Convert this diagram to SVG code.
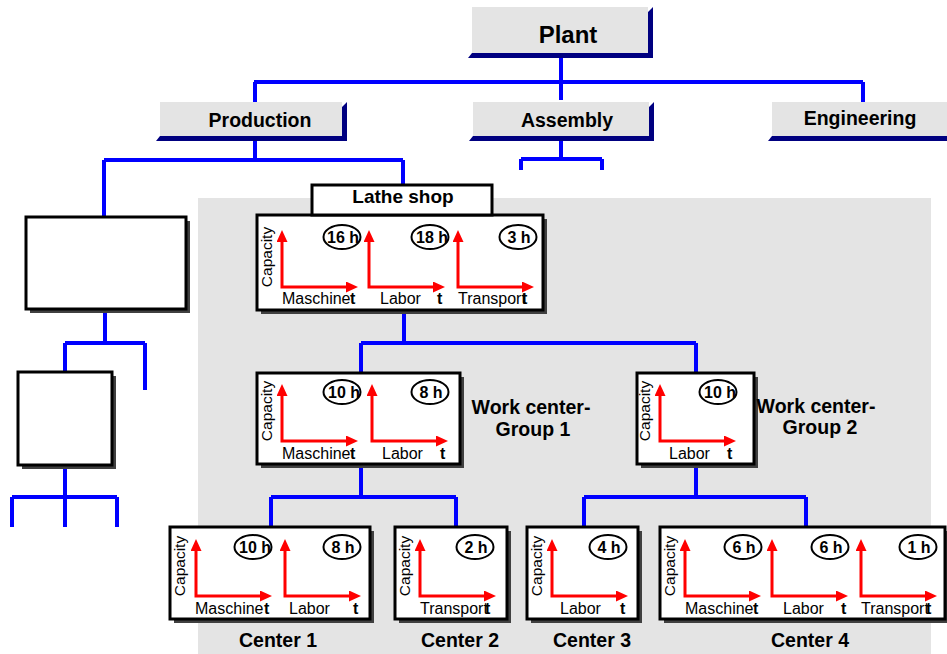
<svg xmlns="http://www.w3.org/2000/svg" xmlns:xlink="http://www.w3.org/1999/xlink" width="947" height="654" viewBox="0 0 947 654">
<style>
.hdr{fill:#e4e4e4}
.nav{fill:#000080}
.box{fill:#fff;stroke:#000;stroke-width:3}
.shd{fill:#404040}
.con{fill:none;stroke:#0000ff;stroke-width:4;stroke-linejoin:miter}
.ax{fill:none;stroke:#ff0000;stroke-width:3;marker-start:url(#arrS);marker-end:url(#arr)}
.ov{fill:#fff;stroke:#000;stroke-width:2}
.bt{font-family:"Liberation Sans",Arial,sans-serif;font-weight:bold;fill:#000;text-anchor:middle}
.lb{font-family:"Liberation Sans",Arial,sans-serif;font-size:16px;fill:#000}
.tt{font-family:"Liberation Sans",Arial,sans-serif;font-size:16px;font-weight:bold;fill:#000}
.oh{font-family:"Liberation Sans",Arial,sans-serif;font-size:16px;font-weight:bold;fill:#000;text-anchor:middle}
.cap{font-family:"Liberation Sans",Arial,sans-serif;font-size:15.5px;fill:#000;text-anchor:middle}
</style>
<defs>
<marker id="arr" markerUnits="userSpaceOnUse" markerWidth="13" markerHeight="12" refX="4" refY="5.5" orient="auto"><path d="M0,0 L12,5.5 L0,11 z" fill="#ff0000"/></marker>
<marker id="arrS" markerUnits="userSpaceOnUse" markerWidth="13" markerHeight="12" refX="4" refY="5.5" orient="auto-start-reverse"><path d="M0,0 L12,5.5 L0,11 z" fill="#ff0000"/></marker>
<path id="axes" class="ax" d="M0,-49 L0,0 L68,0"/>
</defs>

<rect x="198" y="198" width="733" height="456" fill="#e4e4e4"/>

<g id="connectors">
<path class="con" d="M561,58 V82 M254,82 H863 M255,82 V102 M561,82 V100 M863,82 V102"/>
<path class="con" d="M255,141 V160 M104,160 H403 M104,160 V217 M403,160 V185"/>
<path class="con" d="M561,141 V159 M521,159 H602 M521,159 V170 M602,159 V170"/>
<path class="con" d="M105,309 V343 M65,343 H145 M65,343 V372 M145,343 V390"/>
<path class="con" d="M65,465 V527 M12,497 H117 M12,497 V527 M117,497 V527"/>
<path class="con" d="M404,310 V343 M361,343 H696 M361,343 V373 M696,343 V373"/>
<path class="con" d="M361,464 V497 M271,497 H456 M271,497 V527 M456,497 V527"/>
<path class="con" d="M696,464 V497 M584,497 H806 M584,497 V527 M806,497 V527"/>
</g>

<g id="plant">
<polygon class="nav" points="648,12 653,7 653,58 468,58 472,53 648,53"/>
<rect class="hdr" x="472" y="7" width="176" height="46"/>
<text class="bt" x="568" y="43" font-size="24">Plant</text>
</g>
<g id="production">
<polygon class="nav" points="342,107 347,102 347,141 156,141 160,136 342,136"/>
<rect class="hdr" x="160" y="102" width="182" height="34"/>
<text class="bt" x="260" y="127" font-size="19.5">Production</text>
</g>
<g id="assembly">
<polygon class="nav" points="649,107 654,102 654,141 469,141 473,136 649,136"/>
<rect class="hdr" x="473" y="102" width="176" height="34"/>
<text class="bt" x="567" y="127" font-size="19.5">Assembly</text>
</g>
<g id="engineering">
<polygon class="nav" points="947,136 947,141 768,141 772,136"/>
<rect class="hdr" x="772" y="102" width="175" height="34"/>
<text class="bt" x="860" y="125" font-size="19.5">Engineering</text>
</g>

<g id="left1">
<rect class="shd" x="30" y="221" width="160" height="92"/>
<rect class="box" x="26" y="217" width="160" height="92"/>
</g>
<g id="left2">
<rect class="shd" x="22" y="376" width="94" height="93"/>
<rect class="box" x="18" y="372" width="94" height="93"/>
</g>

<g id="lathe-shop">
<rect class="shd" x="261" y="219" width="286" height="95"/>
<rect class="box" x="257" y="215" width="286" height="95"/>
<rect class="box" x="312" y="185" width="180" height="30"/>
<text class="bt" x="403" y="203" font-size="19">Lathe shop</text>
<text class="cap" transform="translate(272,257) rotate(-90)">Capacity</text>
<use xlink:href="#axes" x="282" y="287"/>
<use xlink:href="#axes" x="369" y="287"/>
<use xlink:href="#axes" x="458" y="287"/>
<ellipse class="ov" cx="342" cy="237" rx="18.5" ry="12"/><text class="oh" x="343" y="243">16 h</text>
<ellipse class="ov" cx="430" cy="237" rx="18.5" ry="12"/><text class="oh" x="432" y="243">18 h</text>
<ellipse class="ov" cx="518" cy="237" rx="18.5" ry="12"/><text class="oh" x="519" y="243">3 h</text>
<text class="lb" x="282" y="304">Maschine</text><text class="tt" x="350" y="304">t</text>
<text class="lb" x="380" y="304">Labor</text><text class="tt" x="437" y="304">t</text>
<text class="lb" x="458" y="304">Transport</text><text class="tt" x="522" y="304">t</text>
</g>

<g id="wcg1">
<rect class="shd" x="261" y="377" width="203" height="91"/>
<rect class="box" x="257" y="373" width="203" height="91"/>
<text class="cap" transform="translate(272,411) rotate(-90)">Capacity</text>
<use xlink:href="#axes" x="282" y="441"/>
<use xlink:href="#axes" x="372" y="441"/>
<ellipse class="ov" cx="342" cy="392" rx="18.5" ry="12"/><text class="oh" x="344" y="398">10 h</text>
<ellipse class="ov" cx="430" cy="392" rx="18.5" ry="12"/><text class="oh" x="431" y="398">8 h</text>
<text class="lb" x="282" y="459">Maschine</text><text class="tt" x="350" y="459">t</text>
<text class="lb" x="382" y="459">Labor</text><text class="tt" x="440" y="459">t</text>
<text class="bt" x="531" y="414" font-size="19.5">Work center-</text>
<text class="bt" x="533" y="436" font-size="19.5">Group 1</text>
</g>

<g id="wcg2">
<rect class="shd" x="641" y="377" width="117" height="91"/>
<rect class="box" x="637" y="373" width="117" height="91"/>
<text class="cap" transform="translate(650,411) rotate(-90)">Capacity</text>
<use xlink:href="#axes" x="660" y="441"/>
<ellipse class="ov" cx="718" cy="392" rx="18.5" ry="12"/><text class="oh" x="720" y="398">10 h</text>
<text class="lb" x="669" y="459">Labor</text><text class="tt" x="727" y="459">t</text>
<text class="bt" x="816" y="413" font-size="19.5">Work center-</text>
<text class="bt" x="820" y="434" font-size="19.5">Group 2</text>
</g>

<g id="center1">
<rect class="shd" x="174" y="531" width="200" height="92"/>
<rect class="box" x="170" y="527" width="200" height="92"/>
<text class="cap" transform="translate(185,566) rotate(-90)">Capacity</text>
<use xlink:href="#axes" x="196" y="596"/>
<use xlink:href="#axes" x="285" y="596"/>
<ellipse class="ov" cx="253" cy="547" rx="18.5" ry="12"/><text class="oh" x="255" y="553">10 h</text>
<ellipse class="ov" cx="342" cy="547" rx="18.5" ry="12"/><text class="oh" x="343" y="553">8 h</text>
<text class="lb" x="195" y="614">Maschine</text><text class="tt" x="264" y="614">t</text>
<text class="lb" x="289" y="614">Labor</text><text class="tt" x="353" y="614">t</text>
<text class="bt" x="278" y="647" font-size="19.5">Center 1</text>
</g>

<g id="center2">
<rect class="shd" x="399" y="531" width="112" height="92"/>
<rect class="box" x="395" y="527" width="112" height="92"/>
<text class="cap" transform="translate(410,566) rotate(-90)">Capacity</text>
<use xlink:href="#axes" x="420" y="596"/>
<ellipse class="ov" cx="475" cy="547" rx="18.5" ry="12"/><text class="oh" x="476" y="553">2 h</text>
<text class="lb" x="420" y="614">Transport</text><text class="tt" x="485" y="614">t</text>
<text class="bt" x="460" y="647" font-size="19.5">Center 2</text>
</g>

<g id="center3">
<rect class="shd" x="531" y="531" width="111" height="92"/>
<rect class="box" x="527" y="527" width="111" height="92"/>
<text class="cap" transform="translate(542,566) rotate(-90)">Capacity</text>
<use xlink:href="#axes" x="552" y="596"/>
<ellipse class="ov" cx="608" cy="547" rx="18.5" ry="12"/><text class="oh" x="609" y="553">4 h</text>
<text class="lb" x="560" y="614">Labor</text><text class="tt" x="620" y="614">t</text>
<text class="bt" x="592" y="647" font-size="19.5">Center 3</text>
</g>

<g id="center4">
<rect class="shd" x="664" y="531" width="285" height="92"/>
<rect class="box" x="660" y="527" width="285" height="92"/>
<text class="cap" transform="translate(675,566) rotate(-90)">Capacity</text>
<use xlink:href="#axes" x="685" y="596"/>
<use xlink:href="#axes" x="772" y="596"/>
<use xlink:href="#axes" x="861" y="596"/>
<ellipse class="ov" cx="743" cy="547" rx="18.5" ry="12"/><text class="oh" x="744" y="553">6 h</text>
<ellipse class="ov" cx="830" cy="547" rx="18.5" ry="12"/><text class="oh" x="831" y="553">6 h</text>
<ellipse class="ov" cx="918" cy="547" rx="18.5" ry="12"/><text class="oh" x="919" y="553">1 h</text>
<text class="lb" x="685" y="614">Maschine</text><text class="tt" x="753" y="614">t</text>
<text class="lb" x="783" y="614">Labor</text><text class="tt" x="841" y="614">t</text>
<text class="lb" x="861" y="614">Transport</text><text class="tt" x="926" y="614">t</text>
<text class="bt" x="810" y="647" font-size="19.5">Center 4</text>
</g>
</svg>
